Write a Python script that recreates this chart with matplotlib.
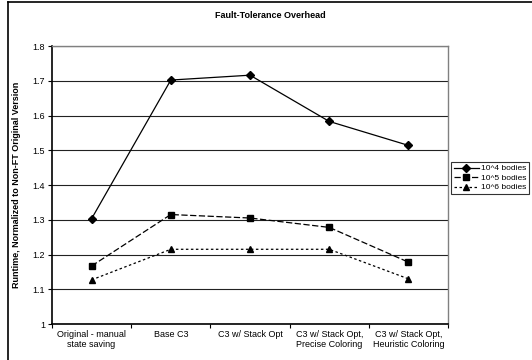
import matplotlib.pyplot as plt
from matplotlib.lines import Line2D

categories = ["Original - manual\nstate saving", "Base C3", "C3 w/ Stack Opt",
              "C3 w/ Stack Opt,\nPrecise Coloring", "C3 w/ Stack Opt,\nHeuristic Coloring"]
bodies_1e4 = [1.303, 1.702, 1.716, 1.583, 1.514]
bodies_1e5 = [1.167, 1.315, 1.305, 1.278, 1.178]
bodies_1e6 = [1.127, 1.215, 1.215, 1.215, 1.130]
series_names = ["10^4 bodies", "10^5 bodies", "10^6 bodies"]
y_ticks = [1, 1.1, 1.2, 1.3, 1.4, 1.5, 1.6, 1.7, 1.8]

plt.rcParams['font.family'] = ['Liberation Sans', 'DejaVu Sans']

fig = plt.figure(figsize=(5.32, 3.6), dpi=100)
ax = fig.add_axes([52/532, 36/360, 396/532, 278/360])

x = list(range(len(categories)))
ax.plot(x, bodies_1e4, color='black', lw=0.9, ls='-', marker='D', ms=3.6, label=series_names[0])
ax.plot(x, bodies_1e5, color='black', lw=0.9, ls=(0, (5, 2)), marker='s', ms=5, label=series_names[1])
ax.plot(x, bodies_1e6, color='black', lw=0.9, ls=(0, (2, 2)), marker='^', ms=5, label=series_names[2])

ax.set_xlim(-0.5, len(categories) - 0.5)
ax.set_ylim(1, 1.8)
ax.set_yticks(y_ticks)
ax.set_yticklabels(["1", "1.1", "1.2", "1.3", "1.4", "1.5", "1.6", "1.7", "1.8"], fontsize=6.5)
ax.yaxis.grid(True, color='#222222', lw=0.8)
ax.set_axisbelow(True)

ax.set_xticks(x)
ax.set_xticklabels(categories, fontsize=6.5)
ax.tick_params(axis='x', length=0, pad=4)
ax.set_xticks([i - 0.5 for i in range(len(categories) + 1)], minor=True)
ax.tick_params(axis='x', which='minor', length=3, width=0.8, direction='out')
ax.tick_params(axis='y', length=3, width=0.8, direction='out', pad=2)

for s in ['left', 'bottom']:
    ax.spines[s].set_linewidth(1.2)
    ax.spines[s].set_color('black')
for s in ['top', 'right']:
    ax.spines[s].set_linewidth(1.0)
    ax.spines[s].set_color('#808080')

ax.set_ylabel("Runtime, Normalized to Non-FT Original Version", fontsize=6.5,
              fontweight='bold', labelpad=8)
fig.text(0.508, 0.958, "Fault-Tolerance Overhead", ha='center', va='center',
         fontsize=6.5, fontweight='bold')

leg = fig.legend(loc='center left', bbox_to_anchor=(451/532, 1 - 178/360), fontsize=6.0,
                 frameon=True, fancybox=False, edgecolor='black', handlelength=3.1,
                 borderpad=0.3, labelspacing=0.2, handletextpad=0.2, borderaxespad=0)
leg.get_frame().set_linewidth(0.8)

fig.add_artist(Line2D([8/532, 8/532], [0, 1 - 1.5/360], transform=fig.transFigure, color='black', lw=1.2))
fig.add_artist(Line2D([8/532, 1], [1 - 1.5/360, 1 - 1.5/360], transform=fig.transFigure, color='black', lw=1.2))

fig.savefig("out.png", dpi=100)
